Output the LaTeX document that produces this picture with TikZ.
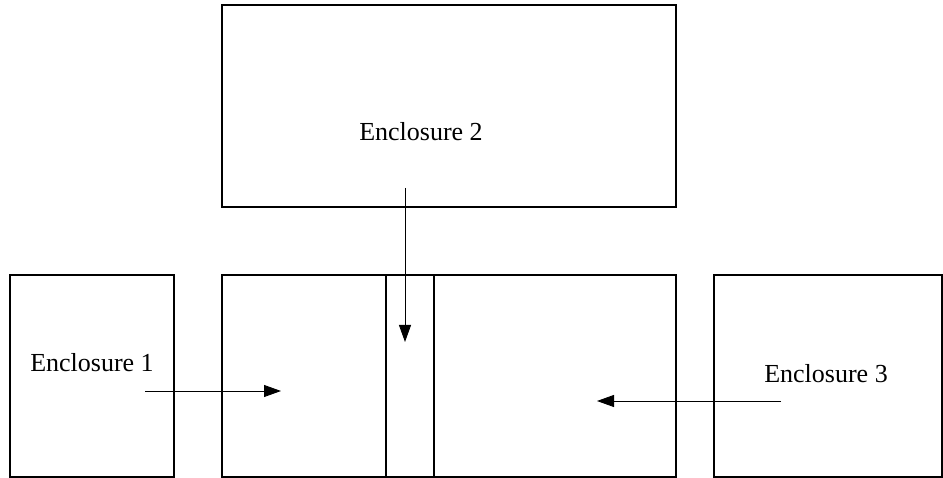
\documentclass[tikz,border=0pt]{standalone}
\usepackage{fontspec}
\setmainfont{Liberation Serif}
\usetikzlibrary{arrows.meta}
\tikzset{
  encbox/.style={draw, line width=1.6pt, rectangle, inner sep=0pt, outer sep=0pt, anchor=north west},
  flow/.style={line width=0.9pt, -{Triangle[length=17pt,width=12pt]}},
  lbl/.style={font=\fontsize{26}{30}\selectfont, inner sep=0pt}
}
\begin{document}
\begin{tikzpicture}[x=1pt, y=-1pt]
  \useasboundingbox (0,0) rectangle (943,478);
  % enclosures
  \node[encbox, minimum width=454pt, minimum height=202pt] (enc2) at (222,5) {};
  \node[encbox, minimum width=164pt, minimum height=202pt] (enc1) at (10,275) {};
  \node[encbox, minimum width=228pt, minimum height=202pt] (enc3) at (714,275) {};
  % central chamber split in three compartments
  \node[encbox, minimum width=164pt, minimum height=202pt] (left) at (222,275) {};
  \node[encbox, minimum width=48pt, minimum height=202pt] (mid) at (386,275) {};
  \node[encbox, minimum width=242pt, minimum height=202pt] (right) at (434,275) {};
  % labels
  \node[lbl] (t1) at (92,363) {Enclosure 1};
  \node[lbl] (t2) at (421,132) {Enclosure 2};
  \node[lbl] (t3) at (826,374) {Enclosure 3};
  % flow end points
  \coordinate (a1) at (145,391);
  \coordinate (b1) at (281,391);
  \coordinate (a2) at (405,188);
  \coordinate (b2) at (405,342);
  \coordinate (a3) at (781,401);
  \coordinate (b3) at (597,401);
  \draw[flow] (a1) -- (b1);
  \draw[flow] (a2) -- (b2);
  \draw[flow] (a3) -- (b3);
\end{tikzpicture}
\end{document}
